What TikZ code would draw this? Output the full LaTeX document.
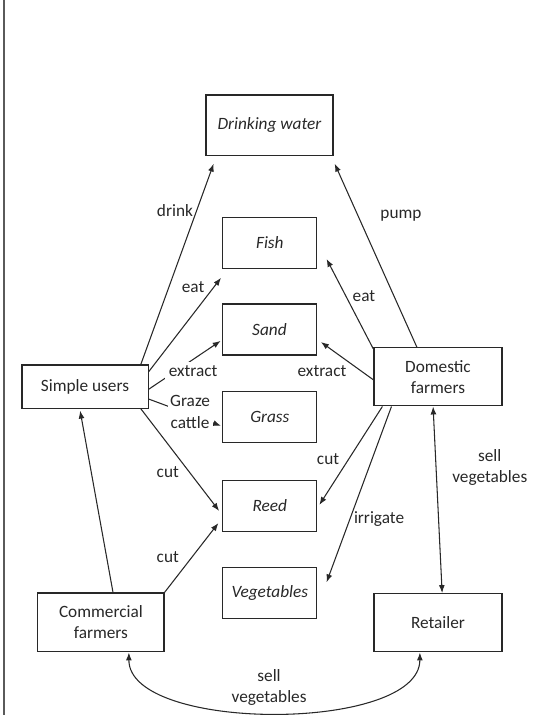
\documentclass[tikz,border=0pt]{standalone}
\usepackage{fontspec}
\setmainfont{Carlito}
\usetikzlibrary{arrows.meta, calc}
\definecolor{ink}{RGB}{40, 40, 40}
\definecolor{rule_gray}{RGB}{90, 90, 90}

\begin{document}
\begin{tikzpicture}[
    actor/.style={
        rectangle,
        draw=ink,
        line width=0.9pt,
        minimum width=3.34cm,
        minimum height=1.14cm,
        text=ink,
        align=center,
        font=\fontsize{13}{16}\selectfont
    },
    resource/.style={
        rectangle,
        draw=ink,
        line width=0.9pt,
        minimum width=2.49cm,
        minimum height=1.35cm,
        text=ink,
        font=\fontsize{13}{16}\selectfont\itshape
    },
    arrow/.style={
        -{Latex[length=6pt, width=4.5pt]},
        line width=0.8pt, draw=ink
    },
    biarrow/.style={
        {Latex[length=6pt, width=4.5pt]}-{Latex[length=6pt, width=4.5pt]},
        line width=0.8pt, draw=ink
    },
    tag/.style={
        text=ink,
        align=center,
        inner sep=1pt,
        font=\fontsize{13}{16}\selectfont
    }
]
\useasboundingbox (0,0) rectangle (14.34,-18.92);

% Page rule on the left
\draw[rule_gray, line width=1.1pt] (0.106,0) -- (0.106,-18.92);

% Resource nodes
\node[resource, minimum width=3.36cm, minimum height=1.59cm] (water) at (7.13,-3.31) {Drinking water};
\node[resource] (fish) at (7.14,-6.42) {Fish};
\node[resource] (sand) at (7.13,-8.72) {Sand};
\node[resource] (grass) at (7.14,-11.03) {Grass};
\node[resource] (reed) at (7.14,-13.39) {Reed};
\node[resource] (veg) at (7.14,-15.70) {Vegetables};

% Actor nodes
\node[actor] (simple) at (2.25,-10.23) {Simple users};
\node[actor, minimum width=3.39cm, minimum height=1.54cm] (domestic) at (11.59,-9.97) {Domestic\\farmers};
\node[actor, minimum height=1.56cm] (commercial) at (2.67,-16.47) {Commercial\\farmers};
\node[actor, minimum width=3.39cm, minimum height=1.54cm] (retailer) at (11.59,-16.48) {Retailer};

% Simple users
\draw[arrow] ([xshift=-0.21cm]simple.north east) -- ([shift={(0.22,-0.21)}]water.south west);
\draw[arrow] ([yshift=-0.19cm]simple.north east) -- ([shift={(-0.03,-0.24)}]fish.south west);
\draw[arrow] ([yshift=-0.07cm]simple.east) -- ([shift={(-0.03,-0.30)}]sand.west);
\draw[arrow] ([yshift=-0.33cm]simple.east) -- ([shift={(-0.03,-0.24)}]grass.west);
\draw[arrow] ([xshift=-0.21cm]simple.south east) -- ([shift={(-0.08,-0.13)}]reed.west);

% Domestic farmers
\draw[arrow] ([xshift=-0.56cm]domestic.north) -- ([shift={(0.03,-0.21)}]water.south east);
\draw[arrow] ([yshift=-0.05cm]domestic.north west) -- ([shift={(0.24,0.26)}]fish.south east);
\draw[arrow] ([yshift=-0.08cm]domestic.west) -- ([shift={(0.10,-0.33)}]sand.east);
\draw[arrow] ([xshift=0.24cm]domestic.south west) -- ([shift={(0.05,0.03)}]reed.east);
\draw[arrow] ([xshift=0.48cm]domestic.south west) -- ([shift={(0.24,-0.40)}]veg.north east);
\draw[biarrow] ([xshift=-0.13cm]domestic.south) -- ([xshift=0.11cm]retailer.north);

% Commercial farmers
\draw[arrow] ([xshift=0.32cm]commercial.north) -- ([shift={(-0.13,-0.05)}]simple.south);
\draw[arrow] (commercial.north east) -- ([shift={(-0.10,0.24)}]reed.south west);
\draw[biarrow] ([xshift=0.74cm]commercial.south) .. controls +(0,-2.12) and +(0,-2.12) .. ([xshift=-0.48cm]retailer.south);

% Labels
\node[tag] (drink) at (4.63,-5.58) {drink};
\node[tag] (eatL) at (5.11,-7.59) {eat};
\node[tag, fill=white, inner sep=3pt] (extractL) at (5.11,-9.82) {extract};
\node[tag, fill=white, inner sep=2pt] (graze) at (5.03,-10.90) {Graze\\cattle};
\node[tag] (cutL) at (4.44,-12.49) {cut};
\node[tag] (pump) at (10.61,-5.71) {pump};
\node[tag] (eatR) at (9.63,-7.83) {eat};
\node[tag] (extractR) at (8.52,-9.82) {extract};
\node[tag] (cutR) at (8.68,-12.14) {cut};
\node[tag] (irrigate) at (10.03,-13.73) {irrigate};
\node[tag] (sellR) at (12.96,-12.38) {sell\\vegetables};
\node[tag] (cutC) at (4.44,-14.74) {cut};
\node[tag] (sellB) at (7.12,-18.20) {sell\\vegetables};

\end{tikzpicture}
\end{document}
